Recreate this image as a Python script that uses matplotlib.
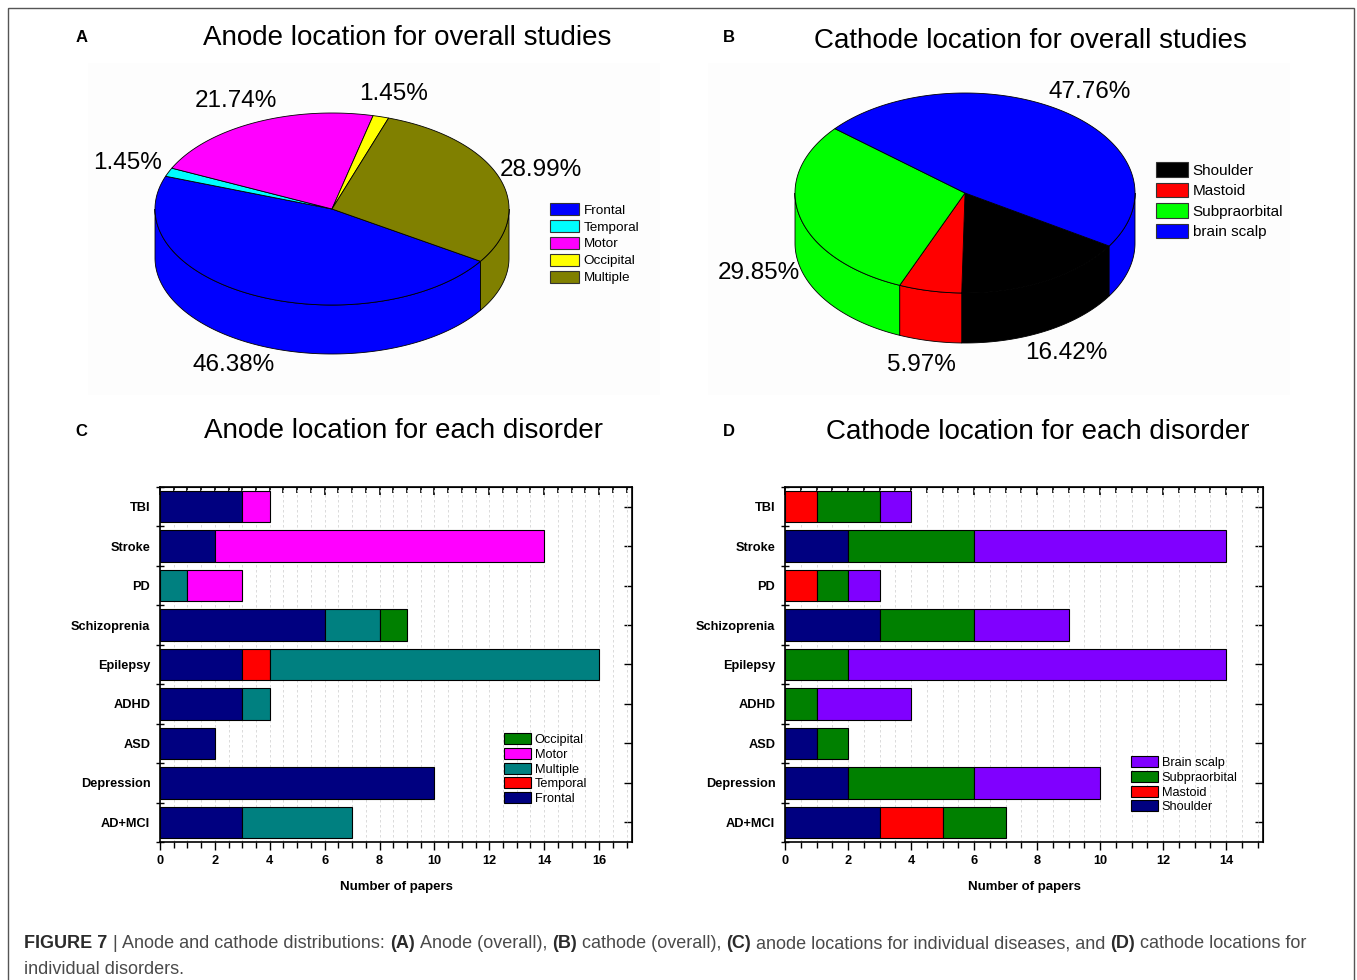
import numpy as np
import matplotlib
matplotlib.use("Agg")
import matplotlib.pyplot as plt
from matplotlib.patches import Polygon, Patch, Rectangle
from matplotlib import font_manager

plt.rcParams["font.family"] = ["Liberation Sans", "DejaVu Sans"]

# categories, bottom to top
disorders = ["AD+MCI", "Depression", "ASD", "ADHD", "Epilepsy",
             "Schizoprenia", "PD", "Stroke", "TBI"]

# anode locations per disorder (number of papers)
anode_frontal = [3, 10, 2, 3, 3, 6, 0, 2, 3]
anode_temporal = [0, 0, 0, 0, 1, 0, 0, 0, 0]
anode_multiple = [4, 0, 0, 1, 12, 2, 1, 0, 0]
anode_motor = [0, 0, 0, 0, 0, 0, 2, 12, 1]
anode_occipital = [0, 0, 0, 0, 0, 1, 0, 0, 0]

# cathode locations per disorder
cathode_shoulder = [3, 2, 1, 0, 0, 3, 0, 2, 0]
cathode_mastoid = [2, 0, 0, 0, 0, 0, 1, 0, 1]
cathode_subpraorbital = [2, 4, 1, 1, 2, 3, 1, 4, 2]
cathode_brain = [0, 4, 0, 3, 12, 3, 1, 8, 1]

# overall pies (order drawn clockwise)
anode_pie_labels = ["Frontal", "Temporal", "Motor", "Occipital", "Multiple"]
anode_pie_values = [sum(anode_frontal), sum(anode_temporal), sum(anode_motor),
                    sum(anode_occipital), sum(anode_multiple)]
cathode_pie_labels = ["Shoulder", "Mastoid", "Subpraorbital", "brain scalp"]
cathode_pie_values = [sum(cathode_shoulder), sum(cathode_mastoid),
                      sum(cathode_subpraorbital), sum(cathode_brain)]

W, H = 1357, 980
fig = plt.figure(figsize=(W / 100, H / 100), dpi=100)
bg = fig.add_axes([0, 0, 1, 1])
bg.set_xlim(0, W)
bg.set_ylim(H, 0)
bg.axis("off")


def fig_xy(x, y):
    return x / W, 1 - y / H


def pie3d(ax, values, colors, cx, cy, a, b, depth, start, fs):
    values = np.asarray(values, float)
    fracs = values / values.sum()
    t0 = start
    for f, c in zip(fracs, colors):
        t1 = t0 - f * 360
        # side wall, only the front half is visible
        for k in range(-2, 2):
            lo = max(t1, 180 + 360 * k)
            hi = min(t0, 360 + 360 * k)
            if hi > lo:
                t = np.radians(np.linspace(lo, hi, 120))
                x = cx + a * np.cos(t)
                y = cy - b * np.sin(t)
                pts = np.column_stack([np.r_[x, x[::-1]], np.r_[y, y[::-1] + depth]])
                ax.add_patch(Polygon(pts, fc=c, ec="k", lw=0.6, zorder=2))
        t = np.radians(np.linspace(t1, t0, 200))
        pts = np.column_stack([np.r_[cx, cx + a * np.cos(t)],
                               np.r_[cy, cy - b * np.sin(t)]])
        ax.add_patch(Polygon(pts, fc=c, ec="k", lw=0.6, zorder=3))
        mid = np.radians((t0 + t1) / 2)
        lx = cx + 1.25 * a * np.cos(mid)
        ly = cy - 1.25 * b * np.sin(mid) + (depth if np.sin(mid) < 0 else 0)
        ax.text(lx, ly, f"{100 * f:.2f}%", fontsize=fs, ha="center", va="center")
        t0 = t1


# very light panel backgrounds of the pies
bg.add_patch(Rectangle((88, 63), 572, 332, fc="#fdfdfd", ec="none", zorder=0))
bg.add_patch(Rectangle((708, 63), 582, 332, fc="#fdfdfd", ec="none", zorder=0))

# panel A
pie3d(bg, anode_pie_values, ["#0000ff", "#00ffff", "#ff00ff", "#ffff00", "#808000"],
      332, 209, 177, 96, 49, -33, 17.5)
# panel B
pie3d(bg, cathode_pie_values, ["#000000", "#ff0000", "#00ff00", "#0000ff"],
      965, 193, 170, 100, 50, -32, 17.5)

fig.legend(handles=[Patch(fc=c, ec="#333333", lw=0.8, label=l) for c, l in
                    zip(["#0000ff", "#00ffff", "#ff00ff", "#ffff00", "#808000"], anode_pie_labels)],
           loc="upper left", bbox_to_anchor=fig_xy(550, 203), frameon=False, fontsize=9.7,
           handlelength=2.15, handleheight=1.0, labelspacing=0.24, handletextpad=0.35,
           borderpad=0, borderaxespad=0)
fig.legend(handles=[Patch(fc=c, ec="#333333", lw=0.8, label=l) for c, l in
                    zip(["#000000", "#ff0000", "#00ff00", "#0000ff"], cathode_pie_labels)],
           loc="upper left", bbox_to_anchor=fig_xy(1156, 162), frameon=False, fontsize=11,
           handlelength=2.1, handleheight=1.1, labelspacing=0.33, handletextpad=0.3,
           borderpad=0, borderaxespad=0)


def stacked(ax, series, labels, colors, xmax, leg_xy):
    y = np.arange(len(disorders))
    left = np.zeros(len(disorders))
    handles = []
    for vals, lab, c in zip(series, labels, colors):
        vals = np.asarray(vals, float)
        m = vals > 0
        bars = ax.barh(y[m], vals[m], left=left[m], height=0.8, color=c,
                       edgecolor="k", linewidth=0.8, label=lab, zorder=3)
        handles.append(bars)
        left += vals
    ax.set_xlim(0, xmax)
    ax.set_ylim(-0.48, 8.45)
    ax.set_xticks(np.arange(0, xmax, 2))
    ax.set_xticks(np.arange(0, xmax, 0.5), minor=True)
    ax.grid(True, which="both", axis="x", color="#d4d4d4", ls=(0, (3, 3)), lw=0.6)
    ax.set_axisbelow(True)
    ax.set_yticks(y)
    ax.set_yticklabels(disorders, fontweight="bold", fontsize=9.2)
    ax.set_yticks(np.arange(-0.5, len(disorders)), minor=True)
    ax.tick_params(axis="y", which="major", length=0, pad=7)
    ax.tick_params(axis="y", which="minor", length=6, width=1, direction="inout")
    ax.tick_params(axis="x", which="major", length=6, width=1, direction="out", labelsize=9.2)
    ax.tick_params(axis="x", which="minor", length=4, width=1, direction="out")
    for t in ax.get_xticklabels():
        t.set_fontweight("bold")
    ax.set_xlabel("Number of papers", fontweight="bold", fontsize=9.5, labelpad=10)
    for s in ax.spines.values():
        s.set_linewidth(1.2)
    top = ax.secondary_xaxis("top")
    top.set_xticks(np.arange(0, xmax, 2))
    top.set_xticks(np.arange(0, xmax, 0.5), minor=True)
    top.tick_params(which="major", direction="in", length=6, width=1.2, labeltop=False)
    top.tick_params(which="minor", direction="in", length=4, width=1.2)
    right = ax.secondary_yaxis("right")
    right.set_yticks(y)
    right.tick_params(direction="in", length=6, width=1, labelright=False)
    ax.legend(handles=handles[::-1], loc="upper left", bbox_to_anchor=fig_xy(*leg_xy),
              bbox_transform=fig.transFigure, frameon=False, fontsize=9.2,
              handlelength=2.1, handleheight=0.95, labelspacing=0.15,
              handletextpad=0.3, borderpad=0, borderaxespad=0)


axC = fig.add_axes([160 / W, 1 - 842 / H, (632 - 160) / W, (842 - 487) / H])
stacked(axC, [anode_frontal, anode_temporal, anode_multiple, anode_motor, anode_occipital],
        ["Frontal", "Temporal", "Multiple", "Motor", "Occipital"],
        ["#000080", "#ff0000", "#008080", "#ff00ff", "#008000"], 17.2, (504, 733))

axD = fig.add_axes([785 / W, 1 - 842 / H, (1263 - 785) / W, (842 - 487) / H])
stacked(axD, [cathode_shoulder, cathode_mastoid, cathode_subpraorbital, cathode_brain],
        ["Shoulder", "Mastoid", "Subpraorbital", "Brain scalp"],
        ["#000080", "#ff0000", "#008000", "#8000ff"], 15.17, (1131, 756))

# titles and panel letters
bg.text(407, 38, "Anode location for overall studies", fontsize=20, ha="center", va="center")
bg.text(1030, 41, "Cathode location for overall studies", fontsize=20, ha="center", va="center")
bg.text(403, 431, "Anode location for each disorder", fontsize=20, ha="center", va="center")
bg.text(1038, 432, "Cathode location for each disorder", fontsize=20, ha="center", va="center")
for x, y, s in [(82, 38, "A"), (729, 38, "B"), (81, 431, "C"), (729, 431, "D")]:
    bg.text(x, y, s, fontsize=12, fontweight="bold", ha="center", va="center")

# outer frame
bg.add_patch(Rectangle((8, 8), 1346, 1000, fc="none", ec="#555555", lw=1, zorder=5))

# caption with mixed weights
names = {f.name for f in font_manager.fontManager.ttflist}
cap_font = "Liberation Sans Narrow" if "Liberation Sans Narrow" in names else "Liberation Sans"
line1 = [("FIGURE 7", True), ("|", False), ("Anode and cathode distributions:", False),
         ("(A)", True), ("Anode (overall),", False), ("(B)", True),
         ("cathode (overall),", False), ("(C)", True),
         ("anode locations for individual diseases, and", False), ("(D)", True),
         ("cathode locations for", False)]
rend = fig.canvas.get_renderer()


def put_line(segs, x0, y, size):
    a = bg.text(0, 0, "aa", fontsize=size, family=cap_font)
    b = bg.text(0, 0, "a a", fontsize=size, family=cap_font)
    sp = b.get_window_extent(rend).width - a.get_window_extent(rend).width
    a.remove()
    b.remove()
    x = x0
    arts = []
    for txt, bold in segs:
        t = bg.text(x, y, txt, fontsize=size, family=cap_font,
                    fontweight="bold" if bold else "normal",
                    color="#2b2b2b" if bold else "#4a4a4a", va="baseline", ha="left")
        x += t.get_window_extent(rend).width + sp
        arts.append(t)
    return x - sp - x0, arts


w, arts = put_line(line1, 24, 948, 13)
for t in arts:
    t.remove()
size = 13 * (1307 - 24) / w
put_line(line1, 24, 948, size)
put_line([("individual disorders.", False)], 24, 974, size)

fig.savefig("out.png", dpi=100)
